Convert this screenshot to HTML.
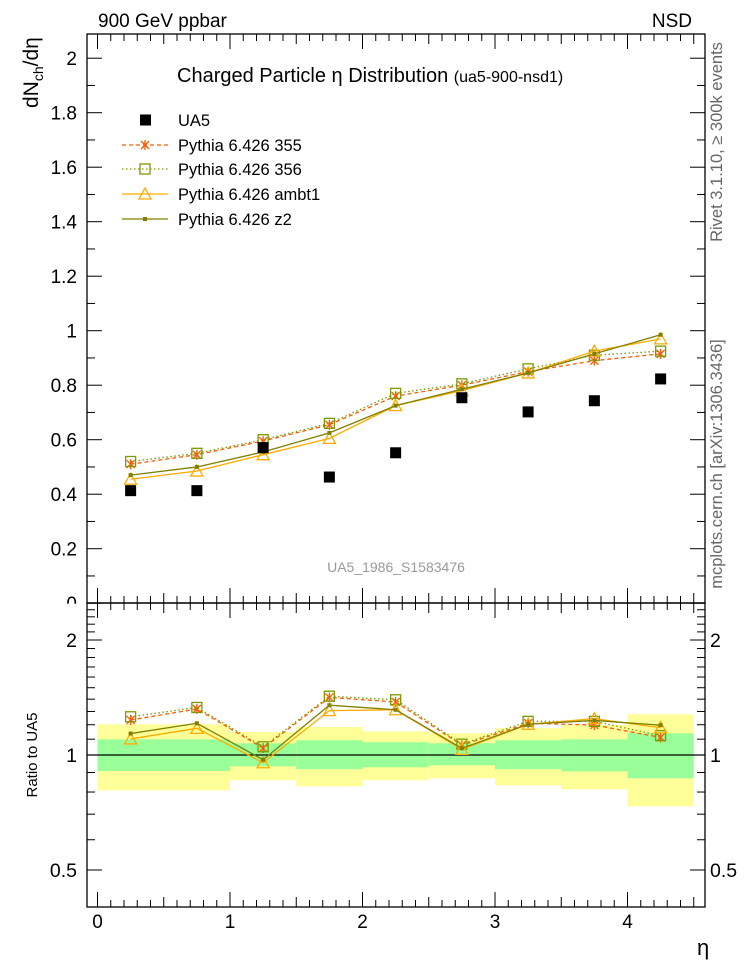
<!DOCTYPE html>
<html><head><meta charset="utf-8">
<style>
body{margin:0;background:#fff;}
svg{display:block;font-family:"Liberation Sans",sans-serif;}
</style></head>
<body>
<svg id="c" width="746" height="972" xmlns="http://www.w3.org/2000/svg">
<text x="98" y="27" font-size="19">900 GeV ppbar</text>
<text x="692" y="27" font-size="19" text-anchor="end">NSD</text>
<text x="177" y="82" font-size="20">Charged Particle  η Distribution <tspan font-size="16">(ua5-900-nsd1)</tspan></text>
<text transform="translate(38,108) rotate(-90)" font-size="21">dN<tspan font-size="14" dy="5">ch</tspan><tspan dy="-5">/dη</tspan></text>
<text transform="translate(722,142) rotate(-90)" font-size="16.5" fill="#666" text-anchor="middle">Rivet 3.1.10, ≥ 300k events</text>
<text transform="translate(722,464) rotate(-90)" font-size="16.5" fill="#666" text-anchor="middle">mcplots.cern.ch [arXiv:1306.3436]</text>
<text x="396" y="572" font-size="14" fill="#999" text-anchor="middle">UA5_1986_S1583476</text>
<text transform="translate(37,755) rotate(-90)" font-size="15" text-anchor="middle">Ratio to UA5</text>
<text x="697" y="955" font-size="22">η</text>
<g id="g"></g>
</svg>
<script>
const etas=[0.25,0.75,1.25,1.75,2.25,2.75,3.25,3.75,4.25];
const ua5=[0.413,0.413,0.571,0.463,0.552,0.754,0.702,0.743,0.823];
const p355=[0.51,0.545,0.595,0.655,0.76,0.80,0.85,0.89,0.915];
const p356=[0.52,0.55,0.60,0.66,0.77,0.805,0.86,0.91,0.925];
const ambt1=[0.455,0.485,0.545,0.605,0.725,0.78,0.845,0.925,0.97];
const z2=[0.47,0.50,0.555,0.625,0.725,0.785,0.845,0.915,0.985];
const bandEdges=[0,1,1.5,2,2.5,3,3.5,4,4.5];
const yelHi=[1.203,1.149,1.184,1.153,1.140,1.175,1.198,1.278];
const yelLo=[0.808,0.859,0.828,0.859,0.869,0.833,0.813,0.734];
const grnHi=[1.099,1.073,1.093,1.080,1.073,1.093,1.099,1.140];
const grnLo=[0.908,0.934,0.918,0.929,0.940,0.918,0.906,0.869];
const yTicks=[0,0.2,0.4,0.6,0.8,1,1.2,1.4,1.6,1.8,2];
const rTicks=[0.5,1,2];

const NS="http://www.w3.org/2000/svg";
const g=document.getElementById('g');
const L=87,R=705,T=34,MB=603,RB=907;
const X=v=>97.5+v*132.5;
const Y=v=>603.2-v*272.5;
const RY=v=>755-Math.log2(v)*115;
function el(t,a,p){const e=document.createElementNS(NS,t);for(const k in a)e.setAttribute(k,a[k]);(p||g).appendChild(e);return e;}

for(let i=0;i<bandEdges.length-1;i++){
  const x1=X(bandEdges[i]),x2=X(bandEdges[i+1]);
  const y=el('rect',{x:x1,y:RY(yelHi[i]),width:x2-x1,height:RY(yelLo[i])-RY(yelHi[i]),fill:'#ffff99'});
  
  
  const gr=el('rect',{x:x1,y:RY(grnHi[i]),width:x2-x1,height:RY(grnLo[i])-RY(grnHi[i]),fill:'#99ff99'});
  
  
}
el('line',{x1:L,x2:R,y1:RY(1),y2:RY(1),stroke:'#000','stroke-width':1.2});

const f1=el('rect',{x:L,y:T,width:R-L,height:MB-T,fill:'none',stroke:'#000','stroke-width':1.3});


const f2=el('rect',{x:L,y:MB,width:R-L,height:RB-MB,fill:'none',stroke:'#000','stroke-width':1.3});



for(let k=0;k<=45;k++){
  const v=k/10;const x=X(v);if(x<L||x>R)continue;
  const big=k%10==0, mid=k%5==0;const len=big?15:(mid?10:7);
  [[T,1],[MB,-1],[MB,1],[RB,-1]].forEach(([y0,d])=>el('line',{x1:x,x2:x,y1:y0,y2:y0+d*len,stroke:'#000'}));
  if(big){const t=el('text',{x:x,y:928,'font-size':19,'text-anchor':'middle'});t.textContent=String(v);
    
    }
}
for(let k=0;k<=20;k++){
  const v=k/10;const y=Y(v);if(y<T)continue;
  const len=k%2==0?15:8;
  el('line',{x1:L,x2:L+len,y1:y,y2:y,stroke:'#000'});
  el('line',{x1:R,x2:R-len,y1:y,y2:y,stroke:'#000'});
}
yTicks.forEach(v=>{const t=el('text',{x:77,y:Y(v)+7,'font-size':19,'text-anchor':'end'});t.textContent=String(v);
  
  });
// ROOT clips the zero label at the pad boundary
el('rect',{x:55,y:MB+0.7,width:31,height:12,fill:'#fff'});
[0.5,0.6,0.7,0.8,0.9,1,1.1,1.2,1.3,1.4,1.5,1.6,1.7,1.8,1.9,2,2.1,2.2,2.3,2.4,2.5].forEach(v=>{
  const y=RY(v);if(y<MB||y>RB)return;
  const len=rTicks.includes(v)?15:8;
  el('line',{x1:L,x2:L+len,y1:y,y2:y,stroke:'#000'});
  el('line',{x1:R,x2:R-len,y1:y,y2:y,stroke:'#000'});
});
rTicks.forEach(v=>{
  const t=el('text',{x:77,y:RY(v)+7,'font-size':19.5,'text-anchor':'end'});t.textContent=String(v);
  
  
  const t2=el('text',{x:710,y:RY(v)+7,'font-size':19.5});t2.textContent=String(v);
  
  
});

function marker(type,x,y,c){
  if(type==='star'){el('path',{d:`M${x-4},${y-4}L${x+4},${y+4}M${x+4},${y-4}L${x-4},${y+4}M${x},${y-5}L${x},${y+5}`,stroke:c,'stroke-width':1.3,fill:'none'});}
  else if(type==='sq'){el('rect',{x:x-5,y:y-5,width:10,height:10,fill:'none',stroke:c,'stroke-width':1.3});}
  else if(type==='tri'){el('path',{d:`M${x},${y-6}L${x+6},${y+5}L${x-6},${y+5}Z`,fill:'none',stroke:c,'stroke-width':1.3});}
  else if(type==='dot'){el('rect',{x:x-2,y:y-2,width:4,height:4,fill:c});}
}
const series=[
 {n:'pythia-355',d:p355,c:'#ff5a00',dash:'4,3',m:'star'},
 {n:'pythia-356',d:p356,c:'#7a9a00',dash:'1.5,2.5',m:'sq'},
 {n:'pythia-ambt1',d:ambt1,c:'#ffaa00',dash:'',m:'tri'},
 {n:'pythia-z2',d:z2,c:'#808000',dash:'',m:'dot'}
];
series.forEach(s=>{
  const pts=etas.map((e,i)=>X(e)+','+Y(s.d[i])).join(' ');
  const pl=el('polyline',{points:pts,fill:'none',stroke:s.c,'stroke-width':1.3,'stroke-dasharray':s.dash});
  
  
  const rp=etas.map((e,i)=>X(e)+','+RY(s.d[i]/ua5[i])).join(' ');
  const rl=el('polyline',{points:rp,fill:'none',stroke:s.c,'stroke-width':1.3,'stroke-dasharray':s.dash});
  
  
  etas.forEach((e,i)=>{marker(s.m,X(e),Y(s.d[i]),s.c);marker(s.m,X(e),RY(s.d[i]/ua5[i]),s.c);});
});
etas.forEach((e,i)=>{
  const r=el('rect',{x:X(e)-5.5,y:Y(ua5[i])-5.5,width:11,height:11,fill:'#000'});
  
  
});

const leg=[['UA5',null],['Pythia 6.426 355',series[0]],['Pythia 6.426 356',series[1]],['Pythia 6.426 ambt1',series[2]],['Pythia 6.426 z2',series[3]]];
const ly=[120,145,169,194,219];
leg.forEach((l,i)=>{
  const y=ly[i];
  if(!l[1]){el('rect',{x:140,y:y-5.5,width:11,height:11,fill:'#000'});}
  else{el('line',{x1:122,x2:168,y1:y,y2:y,stroke:l[1].c,'stroke-width':1.3,'stroke-dasharray':l[1].dash});marker(l[1].m,145,y,l[1].c);}
  const t=el('text',{x:178,y:y+6,'font-size':16.5});t.textContent=l[0];
  
  
});
</script>
</body></html>
